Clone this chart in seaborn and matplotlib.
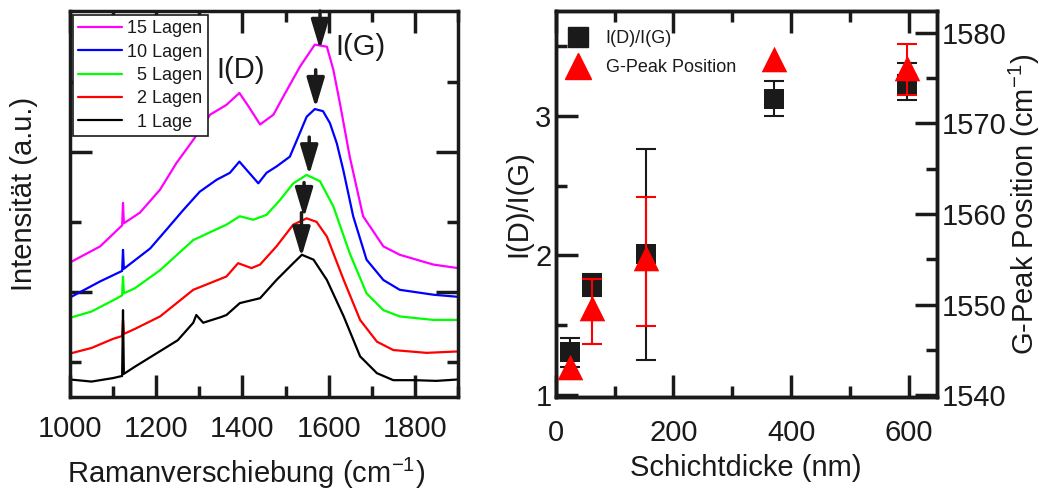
import numpy as np
import pandas as pd
import matplotlib
matplotlib.use("Agg")
import matplotlib.pyplot as plt
from matplotlib.lines import Line2D
from matplotlib.ticker import MultipleLocator, FixedLocator
import seaborn as sns

# ==============================
# DATA - Raman spectra (stacked, a.u.)
# ==============================
shift_15 = [1000, 1070, 1121, 1123, 1125, 1162, 1209, 1247, 1286, 1325, 1363, 1393, 1414,
            1441, 1472, 1495, 1534, 1568, 1596, 1611, 1626, 1649, 1680, 1727, 1765, 1843, 1900]
int_15 = [1.42, 1.65, 1.95, 2.27, 1.98, 2.13, 2.46, 2.84, 3.17, 3.53, 3.67, 3.84, 3.65,
          3.39, 3.53, 3.79, 4.22, 4.53, 4.50, 4.17, 3.70, 2.93, 2.08, 1.65, 1.53, 1.39, 1.34]

shift_10 = [1000, 1070, 1121, 1123, 1125, 1186, 1224, 1263, 1301, 1340, 1371, 1393, 1410,
            1437, 1456, 1479, 1510, 1530, 1549, 1568, 1587, 1603, 1619, 1634, 1657, 1688,
            1727, 1765, 1843, 1900]
int_10 = [0.92, 1.15, 1.30, 1.60, 1.33, 1.62, 1.89, 2.17, 2.43, 2.60, 2.70, 2.86, 2.74,
          2.55, 2.70, 2.79, 2.93, 3.22, 3.50, 3.61, 3.58, 3.41, 3.12, 2.74, 2.08, 1.46,
          1.17, 1.03, 0.96, 0.93]

shift_5 = [1000, 1050, 1100, 1121, 1123, 1125, 1150, 1209, 1286, 1363, 1394, 1425, 1456,
           1487, 1518, 1549, 1580, 1611, 1649, 1688, 1727, 1765, 1843, 1900]
int_5 = [0.63, 0.72, 0.88, 0.95, 1.22, 0.98, 1.05, 1.31, 1.74, 1.96, 2.08, 2.03, 2.10,
         2.31, 2.55, 2.67, 2.58, 2.22, 1.55, 0.98, 0.74, 0.65, 0.60, 0.60]

shift_2 = [1000, 1050, 1100, 1121, 1123, 1125, 1150, 1209, 1286, 1363, 1390, 1421, 1441,
           1479, 1518, 1549, 1572, 1596, 1635, 1673, 1712, 1750, 1827, 1900]
int_2 = [0.12, 0.20, 0.33, 0.37, 0.60, 0.40, 0.47, 0.65, 1.03, 1.22, 1.41, 1.34, 1.39,
         1.65, 1.96, 2.05, 2.00, 1.79, 1.17, 0.60, 0.29, 0.17, 0.13, 0.15]

shift_1 = [1000, 1050, 1100, 1121, 1123, 1125, 1130, 1150, 1200, 1250, 1286, 1293, 1309,
           1350, 1363, 1394, 1441, 1479, 1518, 1538, 1565, 1596, 1635, 1673, 1712, 1750,
           1800, 1850, 1900]
int_1 = [-0.25, -0.28, -0.23, -0.20, 0.74, -0.17, -0.15, -0.07, 0.12, 0.31, 0.56, 0.67, 0.56,
         0.64, 0.67, 0.84, 0.91, 1.17, 1.41, 1.53, 1.46, 1.17, 0.65, 0.08, -0.16, -0.26,
         -0.26, -0.27, -0.25]

names = ["15 Lagen", "10 Lagen", "\u20075 Lagen", "\u20072 Lagen", "\u20071 Lage"]
colors = ["#ff00ff", "#0000ff", "#00ff00", "#ff0000", "#000000"]
shifts = [shift_15, shift_10, shift_5, shift_2, shift_1]
intens = [int_15, int_10, int_5, int_2, int_1]

# G-peak arrows
arrow_x = [1580, 1570, 1555, 1543, 1537]
arrow_top = [5.01, 4.17, 3.21, 2.56, 2.13]
arrow_tip = [4.46, 3.63, 2.67, 2.06, 1.50]

# ==============================
# DATA - right panel
# ==============================
thickness = [24, 61, 154, 371, 597]
ratio = [1.31, 1.79, 2.01, 3.12, 3.23]
ratio_lo = [0.11, 0.08, 0.76, 0.12, 0.12]
ratio_hi = [0.10, 0.08, 0.75, 0.13, 0.15]
gpos = [1543.1, 1549.6, 1555.1, 1577.1, 1576.1]
gpos_lo = [np.nan, 3.9, 7.5, np.nan, 3.0]
gpos_hi = [np.nan, 3.2, 6.8, np.nan, 2.7]

# ==============================
# STYLE
# ==============================
sns.set_theme(style="ticks", rc={
    "axes.edgecolor": "k", "axes.labelcolor": "k", "text.color": "k",
    "xtick.color": "k", "ytick.color": "k", "axes.linewidth": 2.5,
})
plt.rcParams["font.family"] = ["Liberation Sans", "DejaVu Sans"]
plt.rcParams["mathtext.default"] = "regular"

fig = plt.figure(figsize=(10.46, 4.95), dpi=100)
ax1 = fig.add_axes([0.0669, 0.198, 0.3709, 0.7798])
ax2 = fig.add_axes([0.5313, 0.198, 0.3642, 0.7798])

# ==============================
# LEFT PANEL - spectra
# ==============================
frames = []
for name, xs, ys in zip(names, shifts, intens):
    frames.append(pd.DataFrame({"shift": xs, "intensity": ys, "sample": name}))
spec = pd.concat(frames, ignore_index=True)

sns.lineplot(data=spec, x="shift", y="intensity", hue="sample", hue_order=names,
             palette=colors, estimator=None, lw=1.6, ax=ax1, legend=False)

for xa, yt, yp in zip(arrow_x, arrow_top, arrow_tip):
    ax1.annotate("", xy=(xa, yp), xytext=(xa, yt),
                 arrowprops=dict(arrowstyle="-|>,head_length=0.9,head_width=0.27",
                                 color="k", lw=2.5, shrinkA=0, shrinkB=0,
                                 mutation_scale=20))

ax1.text(1396, 4.17, "I(D)", ha="center", va="center", fontsize=21)
ax1.text(1673, 4.50, "I(G)", ha="center", va="center", fontsize=21)

handles = [Line2D([], [], color=c, lw=1.6) for c in colors]
leg = ax1.legend(handles, names, loc="upper left", bbox_to_anchor=(0.008, 0.99),
                 borderaxespad=0, fontsize=13, frameon=True, fancybox=False,
                 edgecolor="k", framealpha=1, handlelength=2.4, handletextpad=0.3,
                 labelspacing=0.35, borderpad=0.3)
leg.get_frame().set_linewidth(1.2)

ax1.set_xlim(1000, 1900)
ax1.set_ylim(-0.5, 5.01)
ax1.xaxis.set_major_locator(MultipleLocator(200))
ax1.xaxis.set_minor_locator(MultipleLocator(100))
ax1.yaxis.set_major_locator(FixedLocator([1, 3]))
ax1.yaxis.set_minor_locator(FixedLocator([0, 2, 4]))
ax1.tick_params(which="both", direction="in", top=True, right=True, width=2.5,
                labelleft=False, labelsize=21, pad=13, color="k")
ax1.tick_params(which="major", length=16)
ax1.tick_params(which="minor", length=8)
ax1.set_xlabel("Ramanverschiebung (cm$^{-1}$)", fontsize=21, labelpad=9)
ax1.set_ylabel("Intensität (a.u.)", fontsize=21, labelpad=23)
ax1.xaxis.label.set_x(0.454)
ax1.yaxis.label.set_y(0.527)

# ==============================
# RIGHT PANEL - I(D)/I(G) and G position
# ==============================
ax2.errorbar(thickness, ratio, yerr=[ratio_lo, ratio_hi], fmt="none", ecolor="k",
             elinewidth=1.5, capsize=7.5, capthick=1.5, zorder=2)
sns.scatterplot(x=thickness, y=ratio, marker="s", color="k", s=210, linewidth=0,
                ax=ax2, zorder=3)

ax3 = ax2.twinx()
ax3.errorbar(thickness, gpos, yerr=[gpos_lo, gpos_hi], fmt="none", ecolor="#ff0000",
             elinewidth=1.5, capsize=7.5, capthick=1.5, zorder=2)
sns.scatterplot(x=thickness, y=gpos, marker="^", color="#ff0000", s=340, linewidth=0,
                ax=ax3, zorder=3)

ax2.set_xlim(0, 647)
ax2.set_ylim(0.986, 3.75)
ax3.set_ylim(1539.8, 1582.4)
ax2.xaxis.set_major_locator(MultipleLocator(200))
ax2.xaxis.set_minor_locator(MultipleLocator(100))
ax2.yaxis.set_major_locator(MultipleLocator(1))
ax2.yaxis.set_minor_locator(MultipleLocator(0.5))
ax3.yaxis.set_major_locator(MultipleLocator(10))
ax3.yaxis.set_minor_locator(MultipleLocator(5))

ax2.tick_params(which="both", direction="in", top=True, right=False, width=2.5,
                labelsize=21, color="k")
ax2.tick_params(axis="x", which="both", pad=16)
ax2.tick_params(axis="y", which="both", pad=3)
ax3.tick_params(which="both", direction="in", width=2.5, labelsize=21, pad=3.5, color="k")
for a in (ax2, ax3):
    a.tick_params(which="major", length=16)
    a.tick_params(which="minor", length=8)
    for sp in a.spines.values():
        sp.set_linewidth(2.5)
        sp.set_color("k")

ax2.set_xlabel("Schichtdicke (nm)", fontsize=21, labelpad=5)
ax2.set_ylabel("I(D)/I(G)", fontsize=21, labelpad=2)
ax3.set_ylabel("G-Peak Position (cm$^{-1}$)", fontsize=21, labelpad=0)

leg_handles = [Line2D([], [], marker="s", color="k", ls="none", markersize=14.5),
               Line2D([], [], marker="^", color="#ff0000", ls="none", markersize=18.5)]
ax3.legend(leg_handles, ["I(D)/I(G)", "G-Peak Position"], loc="upper left",
           bbox_to_anchor=(0.022, 0.95), borderaxespad=0, borderpad=0, fontsize=13,
           frameon=False, handlelength=1.5, handletextpad=0.8, labelspacing=0.65)

fig.savefig("out.png", dpi=100)
